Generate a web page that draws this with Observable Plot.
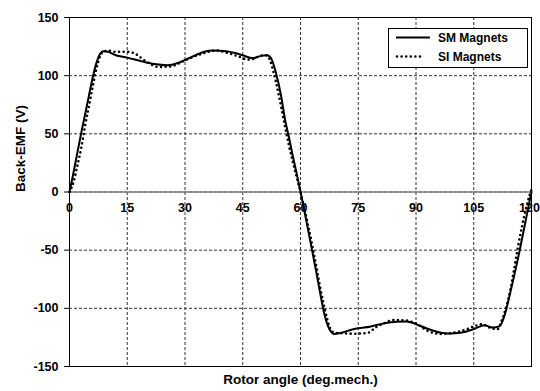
<!DOCTYPE html>
<html>
<head>
<meta charset="utf-8">
<script src="https://cdn.jsdelivr.net/npm/d3@7"></script>
<script src="https://cdn.jsdelivr.net/npm/@observablehq/plot@0.6"></script>
<style>
  html, body { margin: 0; padding: 0; background: #fff; }
  #chart { width: 540px; height: 391px; }
</style>
</head>
<body>
<div id="chart"></div>
<script>
const xTicks = [0, 15, 30, 45, 60, 75, 90, 105, 120];
const yTicks = [-150, -100, -50, 0, 50, 100, 150];
const xLabel = "Rotor angle (deg.mech.)";
const yLabel = "Back-EMF (V)";
const seriesNames = ["SM Magnets", "SI Magnets"];

const angleSM = [0,1,2,3,4,5,6,7,8,8.7,10,12,15,18,22,25.5,28.7,31,33,35,37.3,40.7,43,45,47.6,49.7,51.4,52.5,53.5,55,56,57,58,59,60,61,62,63,64,65,66,67,68,68.6,70,72.8,75,78,81.6,85,87.5,89.6,91,93,94.7,96.5,98.3,100,101.9,103.5,105.4,107.7,109.9,111.7,113.1,114.4,116.2,118,119,120];
const emfSM = [0,16,33,50,66,82,98,111,119,121,120.5,117.5,115.5,113,110,109,111.5,115,118,120.5,121.6,121,119.5,117.5,115,117,117.5,114,104,82,62,47,31,16,0,-16,-33,-50,-67,-85,-102,-114,-120.5,-122,-121.5,-118.8,-117.2,-115.8,-113,-111.5,-111.3,-113,-115,-117.5,-119.4,-121,-121.7,-121.5,-120.8,-119.5,-117.3,-114.5,-116.5,-115.5,-105,-87.6,-61.6,-32.7,-16,0];

const angleSI = [0,1,2,3,4,5,6,7,8,9,10,12,15,17,18.7,21,23,26.5,28,30.4,32.6,35.1,38.1,41.1,43.7,46.3,48,49.7,51,52,53,54,55,56,57,58,59,60,61,62,63,64,65,66,67,68,69,71,74,77.6,79.4,81.6,84.3,87,90,93,96.5,100.1,103.2,105.4,107.2,109,111.2,112.1,113.5,114.5,115.5,116.5,117.5,118.5,119.4,120];
const emfSI = [0,8,22,37,56,73,90,106,117,121,121.5,120.5,120.5,119,115,110,107.5,108,110,113.8,116.7,119.5,121.6,119.5,116.7,113.8,114.7,117.2,117.5,113.8,103,89,73,56,40,26,13,0,-14,-29,-45,-62,-80,-96,-110,-119,-121,-121.5,-121.8,-121,-116.6,-113,-110,-110.3,-113,-119.4,-122,-120.8,-118,-115,-113.6,-116.5,-118,-112,-98,-84,-66,-47,-30,-15,-4,2];

const sm = angleSM.map((a, i) => ({angle: a, emf: emfSM[i]}));
const si = angleSI.map((a, i) => ({angle: a, emf: emfSI[i]}));

const font = "'Liberation Sans', Arial, sans-serif";
const innerTicks = xTicks.slice(0, -1);
const lastTick = xTicks.slice(-1);

const svg = Plot.plot({
  width: 540,
  height: 391,
  marginLeft: 69,
  marginRight: 9,
  marginTop: 17,
  marginBottom: 25,
  style: {fontFamily: font, fontWeight: "bold", fontSize: "12.5px", color: "#000", background: "#fff", overflow: "visible"},
  x: {domain: [0, 120], axis: null},
  y: {domain: [-150, 150]},
  marks: [
    Plot.gridX(xTicks, {stroke: "#333", strokeOpacity: 1, strokeDasharray: "3,2"}),
    Plot.gridY(yTicks, {stroke: "#333", strokeOpacity: 1, strokeDasharray: "3,2"}),
    Plot.ruleY([0], {stroke: "#808080", strokeWidth: 1.5}),
    Plot.line(si, {x: "angle", y: "emf", stroke: "#000", strokeWidth: 2.6, strokeDasharray: "0,4.6", strokeLinecap: "round", curve: "monotone-x"}),
    Plot.line(sm, {x: "angle", y: "emf", stroke: "#000", strokeWidth: 2, curve: "monotone-x"}),
    Plot.frame({stroke: "#000", strokeWidth: 1}),
    Plot.axisY(yTicks, {tickSize: 5, tickPadding: 6, label: null, stroke: "#000", fontSize: 12.5, fontWeight: "bold", tickFormat: d => String(d)}),
    Plot.text(innerTicks, {x: d => d, y: () => 0, dy: 16, text: d => String(d), fontSize: 12.5, fontWeight: "bold", fill: "#000"}),
    Plot.text(lastTick, {x: d => d, y: () => 0, dy: 16, dx: -2, text: d => String(d), fontSize: 12.5, fontWeight: "bold", fill: "#000"}),
    Plot.text([xLabel], {frameAnchor: "bottom", dy: 17, text: d => d, fontSize: 13.5, fontWeight: "bold", fill: "#000"}),
    Plot.text([yLabel], {frameAnchor: "left", dx: -49, rotate: -90, text: d => d, fontSize: 13.5, fontWeight: "bold", fill: "#000"})
  ]
});

// legend inside the plot area, top-right
const g = d3.select(svg).append("g")
  .attr("font-family", font).attr("font-weight", "bold").attr("font-size", 12).attr("text-anchor", "start");
g.append("rect").attr("x", 388.5).attr("y", 28.5).attr("width", 139).attr("height", 39).attr("fill", "#fff").attr("stroke", "#000");
g.append("line").attr("x1", 396).attr("x2", 430).attr("y1", 37.5).attr("y2", 37.5).attr("stroke", "#000").attr("stroke-width", 2);
g.append("line").attr("x1", 397).attr("x2", 424).attr("y1", 56.5).attr("y2", 56.5).attr("stroke", "#000").attr("stroke-width", 2.6).attr("stroke-linecap", "round").attr("stroke-dasharray", "0,4.6");
g.append("text").attr("x", 438).attr("y", 37.5).attr("dy", "0.35em").text(seriesNames[0]);
g.append("text").attr("x", 438).attr("y", 56.5).attr("dy", "0.35em").text(seriesNames[1]);

document.getElementById("chart").appendChild(svg);
</script>
</body>
</html>
